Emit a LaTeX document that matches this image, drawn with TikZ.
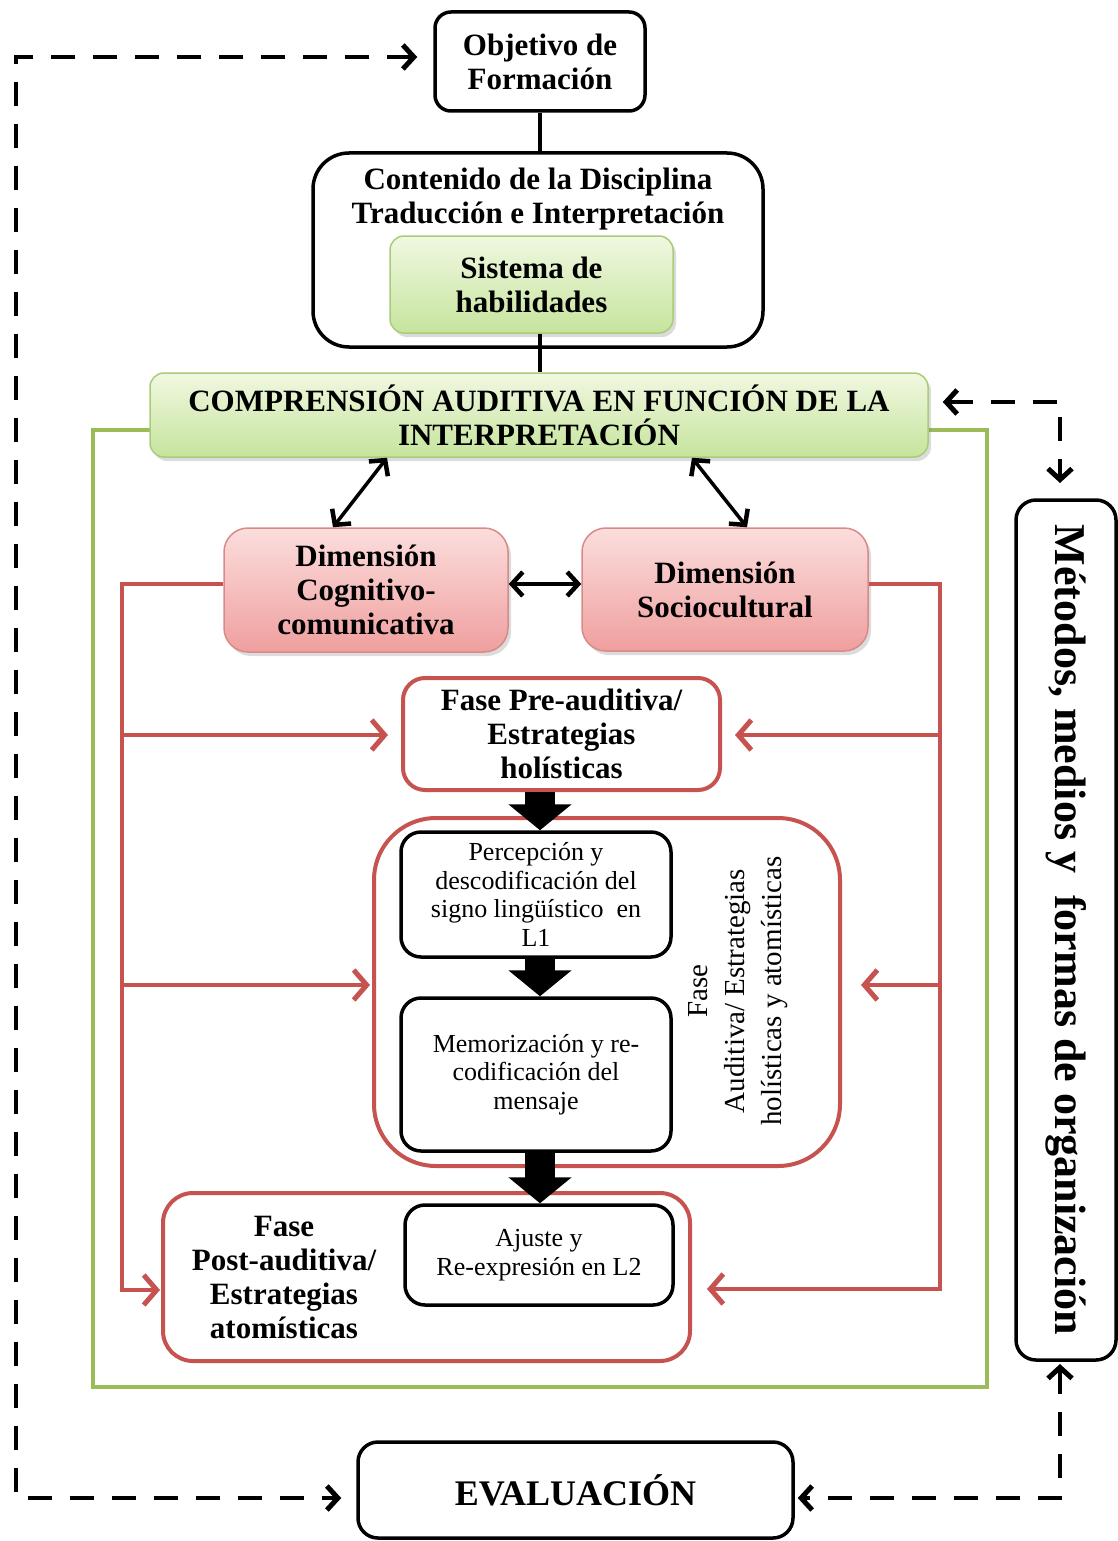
\documentclass[tikz,border=0pt]{standalone}
\usepackage{fontspec}
\setmainfont{Liberation Serif}
\usetikzlibrary{arrows.meta,shadows}
\definecolor{gtop}{HTML}{F0F8E1}
\definecolor{gbot}{HTML}{C6E49D}
\definecolor{gedge}{HTML}{A9CC7B}
\definecolor{gline}{HTML}{9BBB59}
\definecolor{ptop}{HTML}{FBDEDD}
\definecolor{pbot}{HTML}{EF9F9E}
\definecolor{pedge}{HTML}{D88A89}
\definecolor{rline}{HTML}{C65350}
\begin{document}
\begin{tikzpicture}[x=1pt,y=-1pt,
  bigtxt/.style={font=\fontsize{31}{34}\selectfont\bfseries, align=center},
  smalltxt/.style={font=\fontsize{26}{28.5}\selectfont, align=center},
  shad/.style={drop shadow={shadow xshift=3pt,shadow yshift=-4pt,opacity=0.28}},
  blackbox/.style={draw=black, line width=3.5pt, fill=white, rounded corners=#1, inner sep=0pt},
  blackbox/.default=18pt,
  gbox/.style={draw=gedge, line width=1.5pt, top color=gtop, bottom color=gbot, rounded corners=14pt, inner sep=0pt, shad},
  pbox/.style={draw=pedge, line width=1.5pt, top color=ptop, bottom color=pbot, rounded corners=24pt, inner sep=0pt, shad},
  rbox/.style={draw=rline, line width=4pt, fill=white, rounded corners=#1, inner sep=0pt},
  rbox/.default=22pt,
  rln/.style={draw=rline, line width=4pt, -{Straight Barb[length=13pt,width=30pt,line width=5pt]}},
  dbl/.style={draw=black, line width=3.5pt, {Straight Barb[length=11pt,width=24pt,line width=4.5pt]}-{Straight Barb[length=11pt,width=24pt,line width=4.5pt]}},
  dsh/.style={draw=black, line width=4.5pt, dash pattern=on 24pt off 18pt, {Straight Barb[length=11pt,width=24pt,line width=5pt]}-{Straight Barb[length=11pt,width=24pt,line width=5pt]}},
  blk/.style={draw=black, line width=30pt, -{Triangle[length=26pt,width=62pt]}},
  conn/.style={draw=black, line width=3.5pt}
]
\useasboundingbox (0,0) rectangle (1117,1541);

% green frame
\draw[gline, line width=4pt] (93,430) rectangle (987,1387);

% top boxes
\node[blackbox=16pt, minimum width=210pt, minimum height=99pt, bigtxt] (obj) at (540,61.5) {Objetivo de\\Formación};
\node[blackbox=36pt, minimum width=450pt, minimum height=194pt] (cont) at (538,250) {};
\node[bigtxt] (conttxt) at (538,199) {Contenido de la Disciplina\\Traducción e Interpretación};
\node[gbox, minimum width=283pt, minimum height=97pt, bigtxt] (sist) at (531.5,284.5) {Sistema de\\habilidades};
\node[gbox, minimum width=778pt, minimum height=84pt, bigtxt] (comp) at (539,415) {COMPRENSIÓN AUDITIVA EN FUNCIÓN DE LA\\INTERPRETACIÓN};

\draw[conn] (obj.south) -- (obj.south |- cont.north);
\draw[conn] (sist.south -| obj.south) -- (comp.north -| obj.south);

% dimensions
\node[pbox, minimum width=284pt, minimum height=124pt, bigtxt] (dimc) at (366,590) {Dimensión\\Cognitivo-\\comunicativa};
\node[pbox, minimum width=286pt, minimum height=123pt, bigtxt] (dims) at (725,589.5) {Dimensión\\Sociocultural};

\draw[dbl] (comp.south -| 387,0) -- (dimc.north -| 333,0);
\draw[dbl] (comp.south -| 692,0) -- (dims.north -| 747,0);
\draw[dbl] (dimc.east |- 0,584) -- (dims.west |- 0,584);

% phases
\node[rbox, minimum width=317pt, minimum height=112pt, bigtxt] (pre) at (561.5,734) {Fase Pre-auditiva/\\Estrategias\\holísticas};
\node[rbox=62pt, minimum width=466pt, minimum height=348pt] (aud) at (607,992) {};
\node[font=\fontsize{29}{37}\selectfont, align=center, rotate=90] (audtxt) at (738,991) {Fase\\Auditiva/ Estrategias\\holísticas y atomísticas};
\node[blackbox=20pt, minimum width=270pt, minimum height=125pt, smalltxt] (perc) at (536,894.5) {Percepción y\\descodificación del\\signo lingüístico\ \ en\\L1};
\node[blackbox=20pt, minimum width=270pt, minimum height=153pt, smalltxt] (mem) at (536,1074.5) {Memorización y re-\\codificación del\\mensaje};
\node[rbox=30pt, minimum width=527pt, minimum height=168pt] (post) at (426.5,1277) {};
\node[bigtxt] (posttxt) at (284,1277) {Fase\\Post-auditiva/\\Estrategias\\atomísticas};
\node[blackbox=20pt, minimum width=268pt, minimum height=100pt, smalltxt] (aj) at (539,1255) {Ajuste y\\Re-expresión en L2};

% block arrows
\draw[blk] (pre.south -| 540,0) -- (perc.north -| 540,0);
\draw[blk] (perc.south -| 540,0) -- (mem.north -| 540,0);
\draw[blk] (mem.south -| 540,0) -- (aj.north -| 540,0);

% red feedback lines
\draw[rln, shorten >=1pt] (dimc.west |- 0,584) -- (122,584) -- (122,1290) -- (post.west |- 0,1290);
\draw[rln, shorten >=13pt] (122,735) -- (pre.west |- 0,735);
\draw[rln, shorten >=2pt] (122,985) -- (aud.west |- 0,985);
\draw[rln, shorten >=15pt] (dims.east |- 0,584) -- (940,584) -- (940,1289) -- (post.east |- 0,1289);
\draw[rln, shorten >=13pt] (940,735) -- (pre.east |- 0,735);
\draw[rln, shorten >=19pt] (940,985) -- (aud.east |- 0,985);

% side box and evaluation
\node[blackbox=20pt, rotate=-90, minimum width=860pt, minimum height=100pt, font=\fontsize{44}{48}\selectfont\bfseries] (met) at (1066,930) {Métodos, medios y\ \ formas de organización};
\node[blackbox=20pt, minimum width=435pt, minimum height=96pt, font=\fontsize{36}{40}\selectfont\bfseries] (ev) at (575.5,1490) {EVALUACIÓN};

% dashed connections
\coordinate (mtop) at (1060,500);
\coordinate (mbot) at (1060,1360);
\draw[dsh, shorten <=16pt, shorten >=15pt] (obj.west |- 0,57) -- (16,57) -- (16,1498) -- (ev.west |- 0,1498);
\draw[dsh, shorten <=14pt, shorten >=17pt] (comp.east |- 0,402) -- (1060,402) -- (mtop);
\draw[dsh, shorten <=4pt, shorten >=3pt] (mbot) -- (1060,1498) -- (ev.east |- 0,1498);
\end{tikzpicture}
\end{document}
